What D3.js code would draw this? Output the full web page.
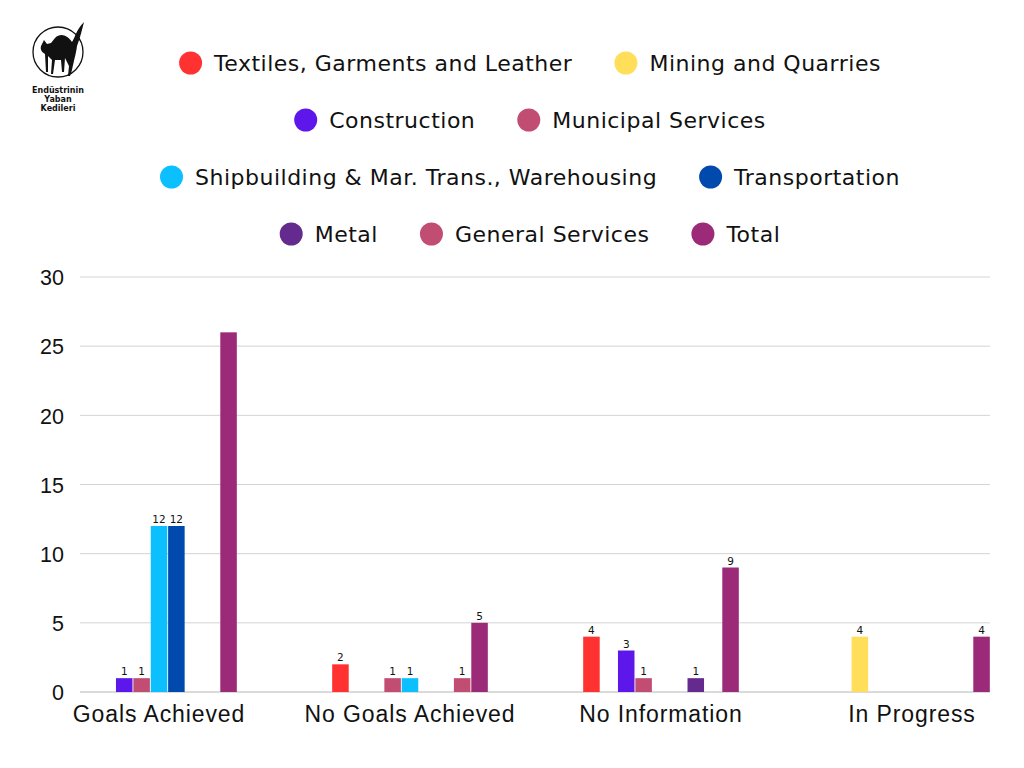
<!DOCTYPE html>
<html>
<head>
<meta charset="utf-8">
<script src="https://cdn.jsdelivr.net/npm/d3@7"></script>
<style>
  body { margin: 0; background: #fff; }
  svg { font-family: "DejaVu Sans", "Noto Sans", sans-serif; }
  .axis text { fill: #111; }
</style>
</head>
<body>
<script>
var categories = ["Goals Achieved", "No Goals Achieved", "No Information", "In Progress"];

var seriesNames = [
  "Textiles, Garments and Leather", "Mining and Quarries", "Construction", "Municipal Services",
  "Shipbuilding & Mar. Trans., Warehousing", "Transportation", "Metal", "General Services", "Total"
];

var seriesColors = [
  "#ff3131", "#ffde59", "#5e17eb", "#c24d73",
  "#0cc0ff", "#004aad", "#652a8e", "#c24d73", "#9b2a78"
];

// one value per category, null = no bar
var textiles       = [null, 2, 4, null];
var mining         = [null, null, null, 4];
var construction   = [1, null, 3, null];
var municipal      = [1, 1, 1, null];
var shipbuilding   = [12, 1, null, null];
var transportation = [12, null, null, null];
var metal          = [null, null, 1, null];
var generalServ    = [null, 1, null, null];
var total          = [26, 5, 9, 4];

// the top of the 26 bar carries no value label in the original
var hiddenLabels = [{ series: "Total", category: "Goals Achieved" }];

var yTicks = [0, 5, 10, 15, 20, 25, 30];

var legendRows = [
  [0, 1],
  [2, 3],
  [4, 5],
  [6, 7, 8]
];

var values = [textiles, mining, construction, municipal, shipbuilding, transportation, metal, generalServ, total];

var width = 1024, height = 768;

var svg = d3.select("body").append("svg")
  .attr("width", width)
  .attr("height", height);

// scales
var x0 = d3.scaleBand()
  .domain(categories)
  .range([33.5, 1037.5])
  .paddingInner(0.38)
  .paddingOuter(0.19);

var x1 = d3.scaleBand()
  .domain(seriesNames)
  .range([0, x0.bandwidth()])
  .paddingInner(0.05);

var y = d3.scaleLinear()
  .domain([0, 30])
  .range([692, 277]);

// gridlines
svg.append("g")
  .attr("class", "grid")
  .selectAll("line")
  .data(yTicks)
  .enter().append("line")
  .attr("x1", 80)
  .attr("x2", 990)
  .attr("y1", function (d) { return y(d); })
  .attr("y2", function (d) { return y(d); })
  .style("stroke", function (d) { return d === 0 ? "#b5b5b5" : "#d4d4d4"; });

// y axis
var yAxis = d3.axisLeft(y).tickValues(yTicks).tickSize(0).tickPadding(0);
svg.append("g")
  .attr("class", "axis")
  .attr("transform", "translate(64,0)")
  .call(yAxis)
  .call(function (g) { g.select(".domain").remove(); })
  .selectAll("text")
  .style("font-size", "21.5px")
  .attr("dy", "0.36em");

// x axis labels
var xAxis = d3.axisBottom(x0).tickSize(0).tickPadding(0);
svg.append("g")
  .attr("class", "axis")
  .attr("transform", "translate(0,714)")
  .call(xAxis)
  .call(function (g) { g.select(".domain").remove(); })
  .selectAll("text")
  .style("font-size", "23px")
  .style("letter-spacing", "0.9px")
  .attr("dy", "0.36em");

// bars
var bars = [];
categories.forEach(function (c, ci) {
  seriesNames.forEach(function (s, si) {
    var v = values[si][ci];
    if (v === null) return;
    var hidden = hiddenLabels.some(function (h) { return h.series === s && h.category === c; });
    bars.push({ category: c, series: s, color: seriesColors[si], value: v, label: !hidden });
  });
});

var barG = svg.append("g");
barG.selectAll("rect")
  .data(bars)
  .enter().append("rect")
  .attr("x", function (d) { return x0(d.category) + x1(d.series); })
  .attr("y", function (d) { return y(d.value); })
  .attr("width", x1.bandwidth())
  .attr("height", function (d) { return y(0) - y(d.value); })
  .attr("fill", function (d) { return d.color; });

barG.selectAll("text")
  .data(bars.filter(function (d) { return d.label; }))
  .enter().append("text")
  .attr("x", function (d) { return x0(d.category) + x1(d.series) + x1.bandwidth() / 2; })
  .attr("y", function (d) { return y(d.value) - 3; })
  .attr("text-anchor", "middle")
  .style("font-size", "10.5px")
  .style("fill", "#111")
  .text(function (d) { return d.value; });

// legend
var legendY = [63, 120, 177, 234];
var legend = svg.append("g");
legendRows.forEach(function (row, ri) {
  var rowG = legend.append("g");
  var cursor = 0;
  row.forEach(function (si, k) {
    var item = rowG.append("g").attr("transform", "translate(" + cursor + ",0)");
    item.append("circle")
      .attr("cx", 11.5)
      .attr("cy", 0)
      .attr("r", 11.5)
      .attr("fill", seriesColors[si]);
    var t = item.append("text")
      .attr("x", 35)
      .attr("y", 0)
      .attr("dy", "0.36em")
      .style("font-size", "22px")
      .style("letter-spacing", "0.5px")
      .style("fill", "#111")
      .text(seriesNames[si]);
    var w = t.node().getComputedTextLength();
    cursor += 35 + w + (k < row.length - 1 ? 42 : 0);
  });
  rowG.attr("transform", "translate(" + (530 - cursor / 2) + "," + legendY[ri] + ")");
});

// logo
var logo = svg.append("g").attr("transform", "translate(58,52)");
logo.append("circle").attr("r", 25).attr("fill", "none").attr("stroke", "#111").attr("stroke-width", 1.3);
logo.append("path")
  .attr("fill", "#111")
  .attr("d", "M-17,-6 L-14,-12 L-11,-8 L-7,-9 L-3,-14 C3,-20 10,-16 14,-10 C17,-14 18,-22 26,-30 C24,-22 22,-14 19,-6 C18,2 16,8 14,18 L12,24 L10,24 L11,14 L7,6 L6,20 L4,20 L3,8 L-3,8 L-5,22 L-7,22 L-6,8 L-10,4 L-10,20 L-12,20 L-13,2 C-16,0 -18,-2 -17,-6 Z");
["Endüstrinin", "Yaban", "Kedileri"].forEach(function (line, i) {
  logo.append("text")
    .attr("x", 0)
    .attr("y", 41 + i * 9)
    .attr("text-anchor", "middle")
    .style("font-size", "8px")
    .style("font-weight", "bold")
    .style("fill", "#111")
    .text(line);
});
</script>
</body>
</html>
